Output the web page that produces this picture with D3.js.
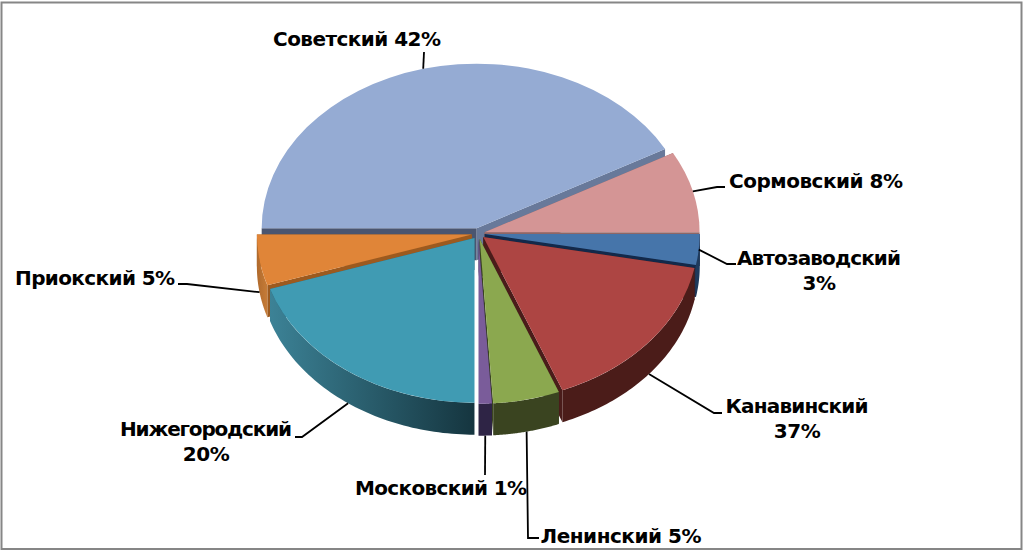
<!DOCTYPE html>
<html><head><meta charset="utf-8">
<script src="https://cdn.jsdelivr.net/npm/d3@7"></script>
<style>html,body{margin:0;padding:0;background:#fff}svg{display:block}</style>
</head><body><div id="chart"></div>
<script>
// Data: drawn wedge shares and the labels as printed
// (the printed Канавинский label says 37% while its wedge spans about 16%).
const categories = ["Советский","Сормовский","Автозаводский","Канавинский","Ленинский","Московский","Нижегородский","Приокский"];
const values = [42,8,3,16,5,1,20,5];
const printedPercent = [42,8,3,37,5,1,20,5];
const topColors = ["#95abd3","#d49595","#4675aa","#ad4543","#8ba84f","#7a5c9a","#409bb3","#e08538"];
const rimLeft  = ["#55637f","#8e6666","#1e3a5c","#4b1c19","#3a4420","#2e2445","#3c8296","#b06a2c"];
const rimRight = ["#55637f","#8e6666","#1e3a5c","#4b1c19","#3a4420","#2e2445","#15353f","#c67c38"];
const startWall = ["#4a5570","#8e6666","#13294a","#4a1c1a","#3a4420","#2e2445","#2a6578","#9c5a1f"];
const endWall   = ["#68799a","#8e6666","#13294a","#4a1c1a","#3a4420","#2e2445","#2a6578","#9c5a1f"];
const paintOrder = [0,1,7,2,6,3,4,5];

// layout
const W=1024,H=552,cx=478.3,cy=233.6,rx=215,ry=164.6,depth=32,explode=6.5,explodeY=0.85;
const labelLayout = [
 {lines:1,x:357,y:46,w:168,elbow:[[424,52]]},
 {lines:1,x:816,y:188,w:174,elbow:[[717,187],[725,187]]},
 {lines:2,x:819,y:265,w:164,elbow:[[727,264],[736,264]]},
 {lines:2,x:797,y:413,w:143,elbow:[[714,413],[722,413]]},
 {lines:1,x:621,y:543,w:161,elbow:[[528,538],[539,538]]},
 {lines:1,x:441,y:495,w:172,elbow:[[485,475]]},
 {lines:2,x:206,y:436,w:172,elbow:[[302,437],[295,437]]},
 {lines:1,x:95,y:285,w:160,elbow:[[187,284],[178,284]]}
];

const svg=d3.select("#chart").append("svg").attr("width",W).attr("height",H);
const defs=svg.append("defs");
svg.append("rect").attr("x",1.5).attr("y",2.5).attr("width",1020).attr("height",546.5)
  .attr("fill","#fff").attr("stroke","#868686").attr("stroke-width",2);

const pie=d3.pie().sort(null).startAngle(-Math.PI/2).endAngle(3*Math.PI/2);
const arcs=pie(values);
const arc=d3.arc().innerRadius(0).outerRadius(rx);
const line=d3.line();
const sx=a=>rx*Math.sin(a), sy=a=>-ry*Math.cos(a);
const mid=d=>(d.startAngle+d.endAngle)/2;
const origin=d=>[cx+explode*Math.sin(mid(d)), cy-explode*explodeY*Math.cos(mid(d))];

paintOrder.forEach(i=>{
  const d=arcs[i],[ox,oy]=origin(d);
  const g=svg.append("g").attr("class","slice").attr("data-name",categories[i]);
  const wall=(a,fill)=>{
    const p=[[ox,oy],[ox+sx(a),oy+sy(a)],[ox+sx(a),oy+sy(a)+depth],[ox,oy+depth]];
    g.append("path").attr("d",line(p)+"Z").attr("fill",fill);
  };
  wall(d.startAngle,startWall[i]);
  wall(d.endAngle,endWall[i]);
  const a0=Math.max(d.startAngle,Math.PI/2),a1=Math.min(d.endAngle,3*Math.PI/2);
  if(a1>a0){
    const id="rim"+i;
    const lg=defs.append("linearGradient").attr("id",id);
    lg.append("stop").attr("offset","0").attr("stop-color",rimLeft[i]);
    lg.append("stop").attr("offset","1").attr("stop-color",rimRight[i]);
    const t=d3.scaleLinear().domain([0,60]).range([a0,a1]);
    const ang=d3.range(61).map(t);
    const upper=ang.map(a=>[ox+sx(a),oy+sy(a)]);
    const lower=ang.slice().reverse().map(a=>[ox+sx(a),oy+sy(a)+depth]);
    g.append("path").attr("d",line(upper.concat(lower))+"Z").attr("fill",`url(#${id})`);
  }
  g.append("path").attr("d",arc(d))
    .attr("transform",`translate(${ox},${oy}) scale(1,${ry/rx})`)
    .attr("fill",topColors[i]);
});

// leader lines and labels
arcs.forEach((d,i)=>{
  const m=mid(d),[ox,oy]=origin(d),L=labelLayout[i];
  const start=[ox+sx(m),oy+sy(m)+(m>1.75?depth:0)];
  svg.append("path").attr("d",line([start].concat(L.elbow)))
    .attr("fill","none").attr("stroke","#000").attr("stroke-width",1.8);
  const pct=printedPercent[i]+"%";
  const label=(str,y,w)=>{
    const t=svg.append("text").attr("x",L.x).attr("y",y).attr("text-anchor","middle")
      .attr("font-family","'DejaVu Sans',sans-serif").attr("font-weight",700)
      .attr("font-size",20).attr("fill","#000").text(str);
    if(w) t.attr("textLength",w).attr("lengthAdjust","spacing");
    else t.attr("letter-spacing",-0.5);
  };
  if(L.lines===1){
    label(categories[i]+" "+pct,L.y,L.w);
  }else{
    label(categories[i],L.y,L.w);
    label(pct,L.y+25,0);
  }
});
</script></body></html>
